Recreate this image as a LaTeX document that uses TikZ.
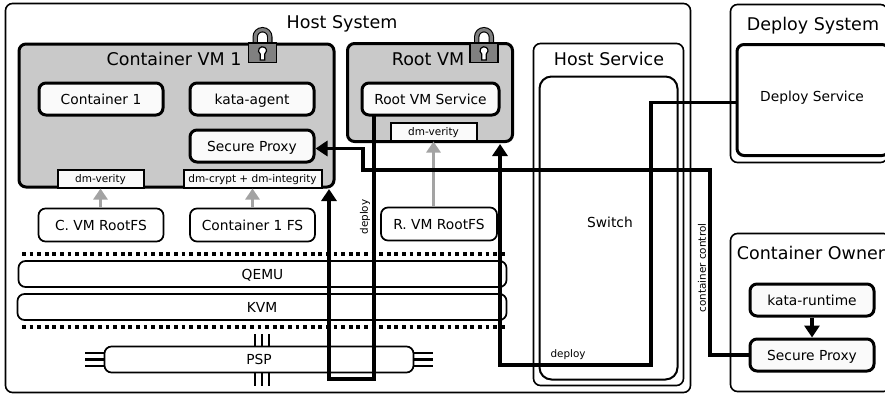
\documentclass[tikz,border=0pt]{standalone}
\usepackage{fontspec}
\setmainfont{DejaVu Sans}
\usetikzlibrary{arrows.meta}
\tikzset{
	outerbox/.style={draw, line width=1.6pt, rounded corners=7pt, inner sep=0pt},
	vmbox/.style={draw, line width=3pt, rounded corners=7pt, fill=black!21, inner sep=0pt},
	midtext/.style={inner sep=0pt, text height=10pt, text depth=0pt, font=\fontsize{13.8}{16}\selectfont},
	appbox/.style={midtext, draw, line width=3pt, rounded corners=7pt, fill=black!2, minimum width=124pt, minimum height=32pt},
	fsbox/.style={midtext, draw, line width=1.7pt, rounded corners=7pt, fill=white, minimum height=33pt},
	dmbox/.style={draw, line width=2pt, fill=black!2, inner sep=0pt, text height=8pt, text depth=0pt, minimum height=18pt, font=\fontsize{10.5}{12}\selectfont},
	titletext/.style={inner sep=0pt, text height=12.8pt, text depth=0pt, font=\fontsize{17.5}{20}\selectfont},
	smalltext/.style={inner sep=0pt, font=\fontsize{10.4}{12}\selectfont},
	flow/.style={line width=3.4pt, -{Triangle[length=12pt,width=15pt]}},
	fsflow/.style={line width=3.2pt, draw=black!36, -{Triangle[length=11pt,width=14pt]}},
	sepline/.style={line width=4pt, dash pattern=on 3.8pt off 3.8pt},
	pspline/.style={line width=2.4pt},
	lock/.pic={
		\draw[line width=5.4pt] (-7.3,1) -- (-7.3,-6) arc[start angle=180, end angle=0, radius=7.3pt] -- (7.3,1);
		\draw[line width=3.2pt, draw=black!50] (-7.3,1) -- (-7.3,-6) arc[start angle=180, end angle=0, radius=7.3pt] -- (7.3,1);
		\draw[line width=1.4pt, fill=black!50] (-14,0) rectangle (14,19.5);
		\draw[line width=1.2pt, fill=white] (-2.3,17) -- (-2.3,11) arc[start angle=235, end angle=-55, radius=4pt] -- (2.3,17) -- cycle;
	}
}
\begin{document}
\begin{tikzpicture}[x=1pt,y=-1pt]
	\useasboundingbox (0,0) rectangle (885,397);

	% systems
	\node[outerbox, minimum width=685pt, minimum height=389pt] (host) at (348,198) {};
	\node[titletext] (hosttitle) at (342,21.7) {Host System};
	\node[outerbox, minimum width=157pt, minimum height=158pt] (deploysys) at (809,83.5) {};
	\node[titletext] (deploytitle) at (813,23.7) {Deploy System};
	\node[outerbox, minimum width=160pt, minimum height=158pt] (owner) at (810.5,312.5) {};
	\node[titletext] (ownertitle) at (811,253) {Container Owner};

	% host service
	\node[outerbox, minimum width=150pt, minimum height=342pt] (hostsrv) at (608.5,214.5) {};
	\node[titletext] (hostsrvtitle) at (609,58.7) {Host Service};
	\node[outerbox, line width=2pt, rounded corners=12pt, minimum width=138pt, minimum height=303pt] (switch) at (608.5,228) {};
	\node[midtext] (switchtext) at (610,222.7) {Switch};

	% deploy service
	\node[vmbox, fill=white, minimum width=152pt, minimum height=111pt] (deploysrv) at (813,100) {};
	\node[midtext] (deploytext) at (812,96.3) {Deploy Service};

	% owner
	\node[appbox] (runtime) at (812,300) {kata-runtime};
	\node[appbox] (ownerproxy) at (812,355) {Secure Proxy};

	% container vm
	\node[vmbox, minimum width=315pt, minimum height=143pt] (cvm) at (176.5,115.5) {};
	\node[titletext] (cvmtitle) at (174,59) {Container VM 1};
	\node[appbox] (cont) at (101,99) {Container 1};
	\node[appbox] (agent) at (252,99) {kata-agent};
	\node[appbox] (vmproxy) at (252,146) {Secure Proxy};
	\node[dmbox, minimum width=86pt] (cverity) at (100.5,178.5) {dm-verity};
	\node[dmbox, minimum width=138pt] (ccrypt) at (252.5,178.5) {dm-crypt + dm-integrity};
	\pic at (262.5,43) {lock};

	% root vm
	\node[vmbox, minimum width=165pt, minimum height=98pt] (rvm) at (430,92.5) {};
	\node[titletext] (rvmtitle) at (428,59) {Root VM};
	\node[appbox, minimum width=137pt] (rsrv) at (430.5,99) {Root VM Service};
	\node[dmbox, minimum width=86pt] (rverity) at (433.5,131.5) {dm-verity};
	\pic at (484,43) {lock};

	% file systems
	\node[fsbox, minimum width=125pt] (cfs) at (101,225) {C. VM RootFS};
	\node[fsbox, minimum width=125pt] (contfs) at (252.5,225) {Container 1 FS};
	\node[fsbox, minimum width=116pt] (rfs) at (439,224) {R. VM RootFS};

	% lower layers
	\draw[sepline] (22,254) -- (506,254);
	\node[fsbox, minimum width=488pt, minimum height=26pt] (qemu) at (262.5,274) {QEMU};
	\node[fsbox, minimum width=489pt, minimum height=26pt] (kvm) at (262,307) {KVM};
	\draw[sepline] (22,327) -- (506,327);
	\foreach \i in {255,262,269} {
		\draw[pspline] (\i,334) -- (\i,346);
		\draw[pspline] (\i,373) -- (\i,386);
	}
	\foreach \j in {353,359.5,366} {
		\draw[pspline] (85,\j) -- (104,\j);
		\draw[pspline] (414,\j) -- (433,\j);
	}
	\node[fsbox, minimum width=309pt, minimum height=26pt] (psp) at (259,359.5) {PSP};

	% image flows
	\draw[fsflow] (cfs.north -| cverity) -- (cverity.south);
	\draw[fsflow] (contfs.north -| ccrypt) -- (ccrypt.south);
	\draw[fsflow] (rfs.north -| rverity) -- (rverity.south);

	% connectors
	\coordinate (dtop) at (374,116);
	\coordinate (cvmin) at (329,189);
	\coordinate (rvmin) at (500,144);
	\draw[flow] (dtop) -- (374,379) -- (329,379) -- (cvmin);
	\draw[flow] (deploysrv.west |- 0,102.5) -- (651,102.5) -- (651,365) -- (500,365) -- (rvmin);
	\draw[flow] (ownerproxy.west) -- (710,355) -- (710,170) -- (363,170) -- (363,148.5) -- (vmproxy.east |- 0,148.5);
	\draw[flow] (runtime) -- (ownerproxy);

	% labels
	\node[smalltext, rotate=90] (deploylabel) at (365,217) {deploy};
	\node[smalltext, rotate=90] (controllabel) at (702,268) {container control};
	\node[smalltext] (deploylabelb) at (568,355) {deploy};
\end{tikzpicture}
\end{document}
